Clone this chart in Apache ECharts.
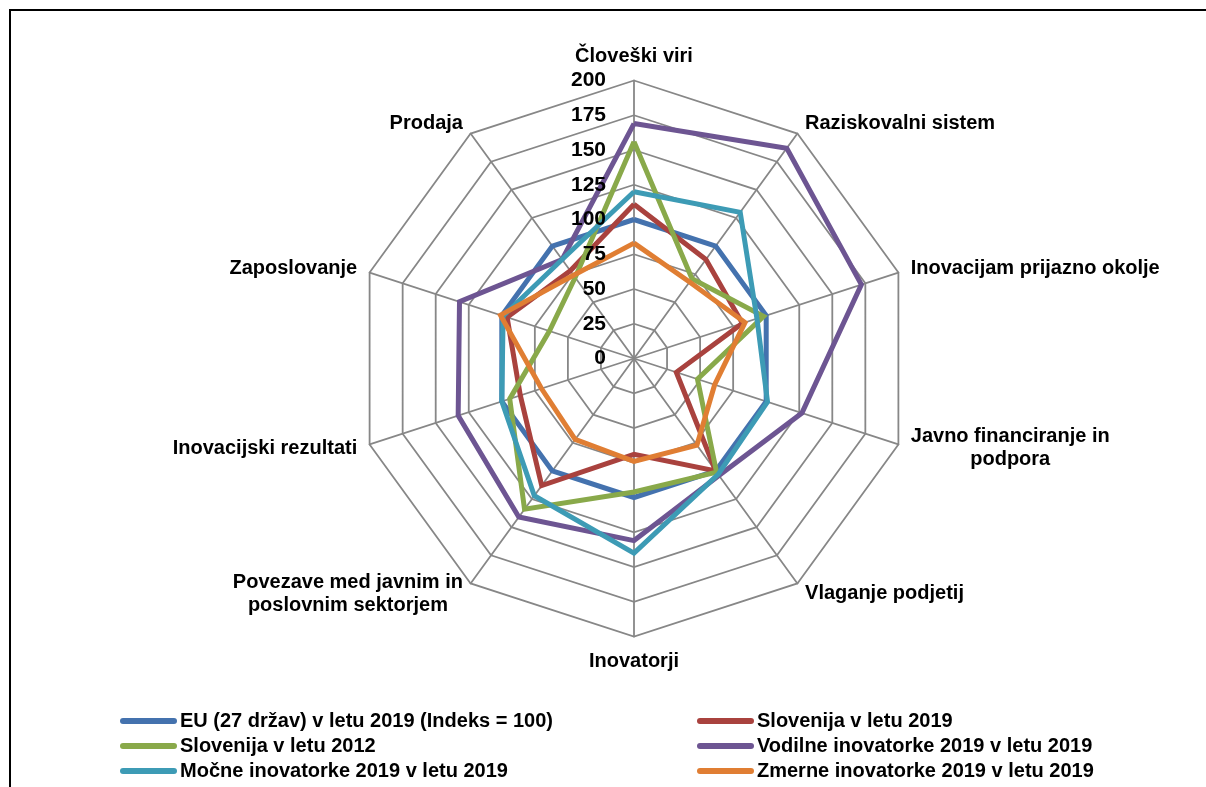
<!DOCTYPE html>
<html>
<head>
<meta charset="utf-8">
<title>Inovacijska uspešnost</title>
<script src="https://cdn.jsdelivr.net/npm/echarts@6/dist/echarts.min.js"></script>
<style>
  html, body { margin: 0; padding: 0; background: #fff; }
  #chart { width: 1206px; height: 787px; }
</style>
</head>
<body>
<div id="chart"></div>
<script>
// Dimensions, listed clockwise from the top
const categories = [
  'Človeški viri',
  'Raziskovalni sistem',
  'Inovacijam prijazno okolje',
  'Javno financiranje in\npodpora',
  'Vlaganje podjetij',
  'Inovatorji',
  'Povezave med javnim in\nposlovnim sektorjem',
  'Inovacijski rezultati',
  'Zaposlovanje',
  'Prodaja'
];

const seriesNames = [
  'EU (27 držav) v letu 2019 (Indeks = 100)',
  'Slovenija v letu 2019',
  'Slovenija v letu 2012',
  'Vodilne inovatorke 2019 v letu 2019',
  'Močne inovatorke 2019 v letu 2019',
  'Zmerne inovatorke 2019 v letu 2019'
];

const euValues       = [100, 100, 100, 100, 100, 100, 100, 100, 100, 100];
const slo2019Values  = [111,  88,  82,  32, 100,  69, 113,  86,  96,  78];
const slo2012Values  = [156,  71,  98,  48, 101,  96, 134,  94,  64,  72];
const leaderValues   = [169, 187, 172, 127, 104, 131, 141, 133, 132,  88];
const strongValues   = [120, 130,  93, 101, 103, 140, 122, 100,  99,  88];
const moderateValues = [ 83,  68,  84,  61,  77,  74,  72,  70, 101,  74];

const scaleMin = 0;
const scaleMax = 200;
const scaleSteps = 8;

const colors = ['#4472AE', '#A9423E', '#89A94A', '#6D5592', '#3D9BB5', '#E07E33'];
const allValues = [euValues, slo2019Values, slo2012Values, leaderValues, strongValues, moderateValues];

// ECharts lays radar indicators out counter-clockwise; reorder so they run clockwise.
const order = [0].concat(categories.slice(1).map((_, i) => categories.length - 1 - i));
const reorder = arr => order.map(i => arr[i]);

const FONT = 'Liberation Sans, Arial, sans-serif';
const CENTER = [634, 358.5];
const RADIUS = 278;
const GRID = { color: '#878787', width: 1.8 };

const makeIndicators = withLabel => reorder(categories).map((name, i) => {
  const ind = { name: name, min: scaleMin, max: scaleMax };
  if (withLabel && i === 0) ind.axisLabel = { show: true };
  return ind;
});

const series = [{
  type: 'radar',
  radarIndex: 0,
  symbol: 'none',
  silent: true,
  data: allValues.map((vals, i) => ({
    name: seriesNames[i],
    value: reorder(vals),
    lineStyle: { color: colors[i], width: 5, join: 'miter' },
    itemStyle: { color: colors[i] }
  }))
}];

const pill = 'path://M3,0 L54,0 A3,3 0 0 1 54,6 L3,6 A3,3 0 0 1 3,0 Z';
const legendBase = {
  orient: 'vertical',
  icon: pill,
  itemWidth: 57,
  itemHeight: 6,
  itemGap: 5,
  top: 706,
  selectedMode: false,
  textStyle: { color: '#000', fontSize: 20, fontWeight: 'bold', fontFamily: FONT, lineHeight: 20, padding: [0, 0, 0, -2] }
};

const chart = echarts.init(document.getElementById('chart'), null, { renderer: 'canvas' });
chart.setOption({
  animation: false,
  color: colors,
  graphic: [{
    type: 'rect',
    silent: true,
    shape: { x: 10, y: 10, width: 1400, height: 1000 },
    style: { fill: 'none', stroke: '#000', lineWidth: 2 }
  }],
  legend: [
    Object.assign({}, legendBase, { left: 115, data: [seriesNames[0], seriesNames[2], seriesNames[4]] }),
    Object.assign({}, legendBase, { left: 692, data: [seriesNames[1], seriesNames[3], seriesNames[5]] })
  ],
  radar: [
    {
      // grid, spokes and dimension names (drawn beneath the series)
      center: CENTER,
      radius: RADIUS,
      shape: 'polygon',
      splitNumber: scaleSteps,
      startAngle: 90,
      indicator: makeIndicators(false),
      nameGap: 13,
      axisName: {
        color: '#000',
        fontSize: 20,
        fontWeight: 'bold',
        fontFamily: FONT,
        formatter: name => name.split('\n').map(line => '{c|' + line + '}').join('\n'),
        rich: {
          c: { align: 'center', color: '#000', fontSize: 20, fontWeight: 'bold', fontFamily: FONT, lineHeight: 23 }
        }
      },
      axisLine: { show: true, lineStyle: GRID },
      splitLine: { show: true, lineStyle: GRID },
      splitArea: { show: false },
      axisTick: { show: false },
      axisLabel: { show: false }
    },
    {
      // value scale on the top spoke, drawn above the series
      z: 10,
      center: CENTER,
      radius: RADIUS,
      shape: 'polygon',
      splitNumber: scaleSteps,
      startAngle: 90,
      indicator: makeIndicators(true),
      axisName: { show: false },
      axisLine: { show: false },
      splitLine: { show: false },
      splitArea: { show: false },
      axisTick: { show: false },
      axisLabel: {
        show: false,
        color: '#000',
        fontSize: 21,
        fontWeight: 'bold',
        fontFamily: FONT,
        margin: 28
      }
    }
  ],
  series: series
});
</script>
</body>
</html>
